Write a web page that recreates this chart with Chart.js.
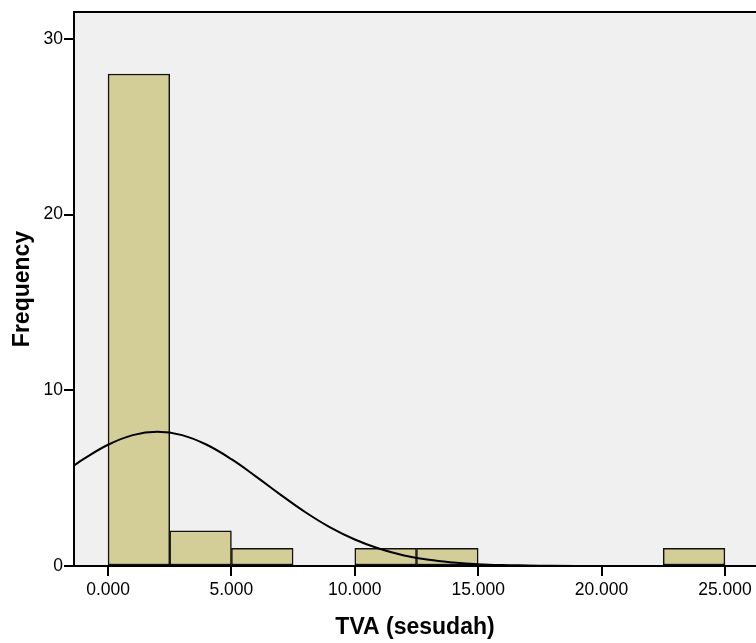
<!DOCTYPE html>
<html>
<head>
<meta charset="utf-8">
<script src="https://cdn.jsdelivr.net/npm/chart.js@4/dist/chart.umd.min.js"></script>
<style>
  html, body { margin:0; padding:0; background:#fff; }
  #wrap { width:756px; height:643px; }
</style>
</head>
<body>
<div id="wrap"><canvas id="histChart"></canvas></div>
<script>
/* ── Histogram data (bin width 2.500) ── */
const BIN_CENTERS = [1.25, 3.75, 6.25, 11.25, 13.75, 23.75];
const BIN_COUNTS  = [28, 2, 1, 1, 1, 1];

/* ── Normal curve ── */
const CURVE_X = [-1.5, -1, 0, 1, 2, 3, 4, 5, 6, 7, 8, 9, 10, 11, 12, 13, 14, 15, 16, 17, 18, 20, 23, 26.5];
const CURVE_Y = [5.60, 6.08, 6.90, 7.45, 7.64, 7.45, 6.90, 6.08, 5.09, 4.05, 3.06, 2.20, 1.51, 0.98, 0.60, 0.35, 0.20, 0.10, 0.05, 0.03, 0.01, 0, 0, 0];

const X_TICKS = [0, 5, 10, 15, 20, 25];
const Y_TICKS = [0, 10, 20, 30];

const FONT = 'Liberation Sans, Arial, sans-serif';

/* plot background + frame */
const framePlugin = {
  id:'frame',
  beforeDraw(chart) {
    const { ctx, chartArea:a } = chart;
    ctx.save();
    ctx.fillStyle = '#F0F0F0';
    ctx.fillRect(a.left, a.top, a.right - a.left, a.bottom - a.top);
    ctx.restore();
  },
  afterDraw(chart) {
    const { ctx, chartArea:a } = chart;
    ctx.save();
    ctx.strokeStyle = '#000';
    ctx.lineWidth = 2;
    ctx.beginPath();
    ctx.moveTo(a.left, a.bottom);
    ctx.lineTo(a.left, a.top);
    ctx.lineTo(a.right + 2, a.top);
    ctx.stroke();
    ctx.restore();
  }
};

function buildHistogram() {
  const ctx = document.getElementById('histChart').getContext('2d');
  new Chart(ctx, {
    type:'bar',
    data:{
      datasets:[
        { type:'line', label:'Normal', data: CURVE_X.map((x,i) => ({x, y:CURVE_Y[i]})),
          borderColor:'#000', borderWidth:2, pointRadius:0, tension:.4, fill:false, order:0 },
        { type:'bar', label:'Frequency', data: BIN_CENTERS.map((x,i) => ({x, y:BIN_COUNTS[i]})),
          backgroundColor:'#D3CE97', borderColor:'#111', borderWidth:1.5, borderSkipped:false,
          barPercentage:1, categoryPercentage:1, order:1 }
      ]
    },
    options:{
      responsive:true, maintainAspectRatio:false, animation:false,
      layout:{ padding:{ top:12, left:0, right:0, bottom:0 } },
      plugins:{ legend:{display:false}, tooltip:{enabled:false} },
      scales:{
        x:{
          type:'linear', min:-1.38, max:26.26, offset:false,
          afterBuildTicks: s => { s.ticks = X_TICKS.map(v => ({value:v})); },
          afterFit: s => { s.height = 77; },
          grid:{ offset:false, drawOnChartArea:false, drawTicks:true, tickLength:10, color:'#000', lineWidth:2 },
          border:{ display:true, color:'#000', width:2 },
          ticks:{ color:'#000', font:{family:FONT, size:17.5}, padding:4, maxRotation:0,
                  callback: v => v.toFixed(3) },
          title:{ display:true, text:'TVA (sesudah)', color:'#000', font:{family:FONT, size:23, weight:'bold'}, padding:{top:4, bottom:2} }
        },
        y:{
          min:0, max:31.53,
          afterBuildTicks: s => { s.ticks = Y_TICKS.map(v => ({value:v})); },
          afterFit: s => { s.width = 74; },
          grid:{ drawOnChartArea:false, drawTicks:true, tickLength:10, color:'#000', lineWidth:2 },
          border:{ display:true, color:'#000', width:2 },
          ticks:{ color:'#000', font:{family:FONT, size:17.5}, padding:1 },
          title:{ display:true, text:'Frequency', color:'#000', font:{family:FONT, size:23, weight:'bold'}, padding:{top:9, bottom:4} }
        }
      }
    },
    plugins:[framePlugin]
  });
}

window.addEventListener('DOMContentLoaded', buildHistogram);
</script>
</body>
</html>
